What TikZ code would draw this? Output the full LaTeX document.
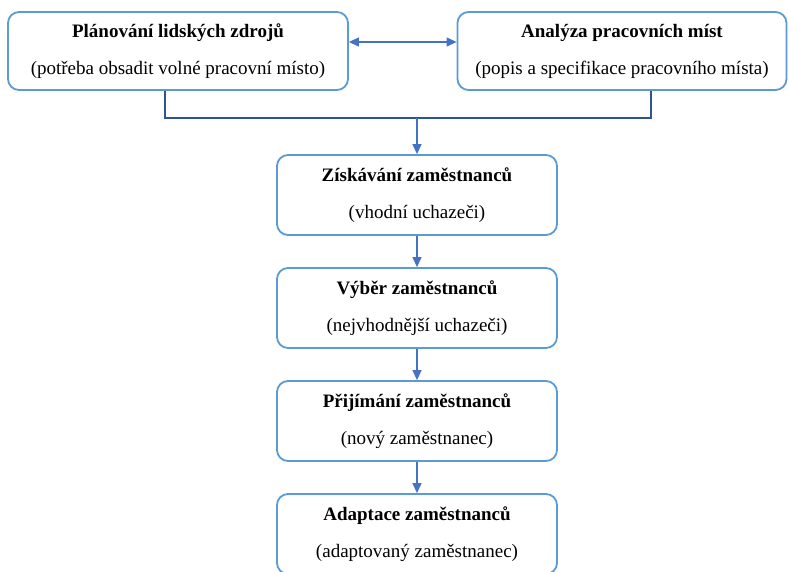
\documentclass[tikz,border=0pt]{standalone}
\usepackage{fontspec}
\setmainfont{Liberation Serif}
\usetikzlibrary{arrows.meta}

\definecolor{boxblue}{HTML}{5B9BD5}
\definecolor{arrowblue}{HTML}{4472C4}
\definecolor{lineblue}{HTML}{2F5496}

\tikzset{
  stage/.style={draw=boxblue, line width=1.8pt, rounded corners=11pt, fill=white,
    align=center, font=\fontsize{19}{37}\selectfont, inner sep=0pt},
  flow/.style={arrowblue, line width=1.2pt, -{Triangle[length=10pt,width=9pt]}},
}

\begin{document}
\begin{tikzpicture}[x=1pt, y=-1pt]
  \useasboundingbox (0,0) rectangle (789,572);
  % Top row
  \node[stage, minimum width=340pt, minimum height=78pt] (plan) at (178,51)
    {\textbf{Plánování lidských zdrojů}\\(potřeba obsadit volné pracovní místo)};
  \node[stage, minimum width=329pt, minimum height=78pt] (analyza) at (622,51)
    {\textbf{Analýza pracovních míst}\\(popis a specifikace pracovního místa)};
  \draw[flow, {Triangle[length=10pt,width=9pt]}-{Triangle[length=10pt,width=9pt]}]
    ([yshift=9pt]plan.east) -- ([yshift=9pt]analyza.west);

  % Join line
  \coordinate (jl) at (165,118);
  \coordinate (jr) at (651,118);
  \draw[lineblue, line width=1.8pt] (plan.south -| jl) -- (jl) -- (jr) -- (analyza.south -| jr);

  % Column
  \node[stage, minimum width=280pt, minimum height=80pt] (ziskavani) at (417,195)
    {\textbf{Získávání zaměstnanců}\\(vhodní uchazeči)};
  \node[stage, minimum width=280pt, minimum height=80pt] (vyber) at (417,308)
    {\textbf{Výběr zaměstnanců}\\(nejvhodnější uchazeči)};
  \node[stage, minimum width=280pt, minimum height=80pt] (prijimani) at (417,421)
    {\textbf{Přijímání zaměstnanců}\\(nový zaměstnanec)};
  \node[stage, minimum width=280pt, minimum height=80pt] (adaptace) at (417,534)
    {\textbf{Adaptace zaměstnanců}\\(adaptovaný zaměstnanec)};

  % Arrows
  \draw[flow] (ziskavani.north |- jl) -- (ziskavani.north);
  \draw[flow] (ziskavani) -- (vyber);
  \draw[flow] (vyber) -- (prijimani);
  \draw[flow] (prijimani) -- (adaptace);
\end{tikzpicture}
\end{document}
